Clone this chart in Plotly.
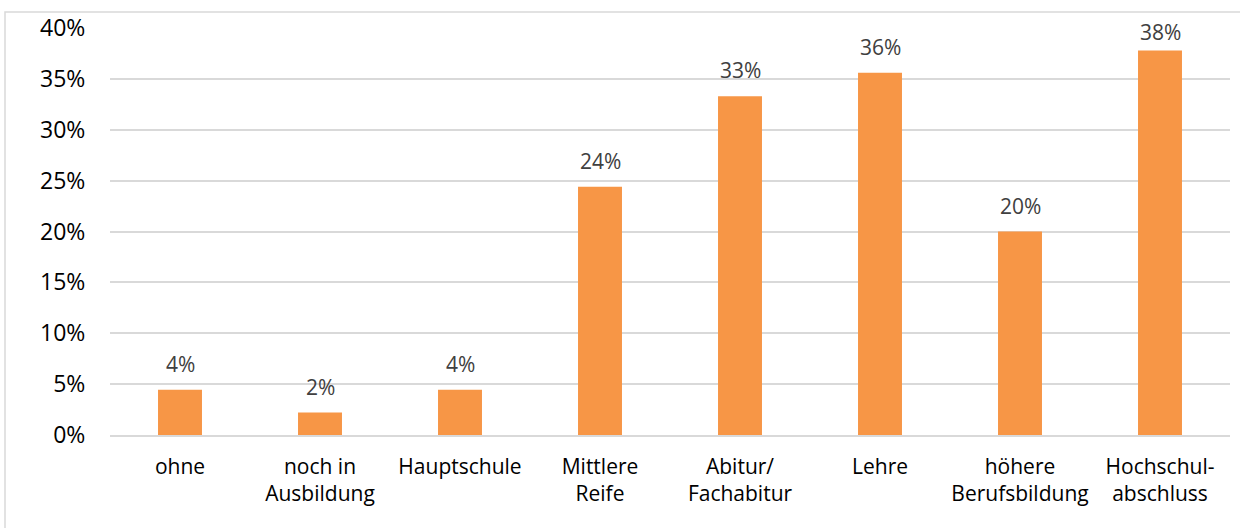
import plotly.graph_objects as go

categories = ["ohne", "noch in<br>Ausbildung", "Hauptschule", "Mittlere<br>Reife",
              "Abitur/<br>Fachabitur", "Lehre", "höhere<br>Berufsbildung", "Hochschul-<br>abschluss"]
values = [4.45, 2.2, 4.45, 24.4, 33.3, 35.6, 20.0, 37.8]
labels = ["4%", "2%", "4%", "24%", "33%", "36%", "20%", "38%"]
y_ticks = [0, 5, 10, 15, 20, 25, 30, 35, 40]
y_tick_text = ["0%", "5%", "10%", "15%", "20%", "25%", "30%", "35%", "40%"]

BAR = "#F79646"
GRID = "#d9d9d9"

Y_MAX = 40
PLOT_TOP, PLOT_H = 28, 407
px_per_unit = PLOT_H / Y_MAX

fig = go.Figure()
fig.add_trace(go.Bar(x=categories, y=values, marker=dict(color=BAR, line=dict(width=0)),
                     hoverinfo="skip"))

for c, v, t in zip(categories, values, labels):
    # keep labels from rising above the plot area (as the source chart does)
    shift = min(26, (Y_MAX - v) * px_per_unit - 4)
    fig.add_annotation(x=c, y=v, text=t, showarrow=False, yanchor="middle", yshift=shift,
                       font=dict(family="Open Sans", size=21, color="#404040"))

fig.add_shape(type="rect", xref="paper", yref="paper",
              x0=(5 - 110) / 1120, x1=(1260 - 110) / 1120,
              y0=(435 - 560) / 407, y1=(435 - 12) / 407,
              line=dict(color=GRID, width=1.5), fillcolor="rgba(0,0,0,0)", layer="below")

fig.update_layout(
    width=1240, height=528,
    margin=dict(l=110, r=10, t=PLOT_TOP, b=528 - PLOT_TOP - PLOT_H),
    paper_bgcolor="white", plot_bgcolor="white",
    bargap=0.686, showlegend=False,
    font=dict(family="Open Sans", color="#000000"),
)
fig.update_xaxes(showgrid=False, showline=True, linecolor=GRID, linewidth=1.5,
                 automargin=False,
                 ticks="outside", ticklen=12, tickcolor="rgba(0,0,0,0)",
                 tickfont=dict(family="Open Sans", size=21, color="#000000"))
fig.update_yaxes(range=[0, Y_MAX], tickvals=y_ticks, ticktext=y_tick_text,
                 automargin=False,
                 showgrid=True, gridcolor=GRID, gridwidth=1.5, zeroline=False,
                 showline=False, ticks="outside", ticklen=19, tickcolor="rgba(0,0,0,0)",
                 tickfont=dict(family="Open Sans", size=23, color="#000000"))

fig.write_html("out.html", config={"displayModeBar": False},
               post_script="document.body.style.margin='0';")
